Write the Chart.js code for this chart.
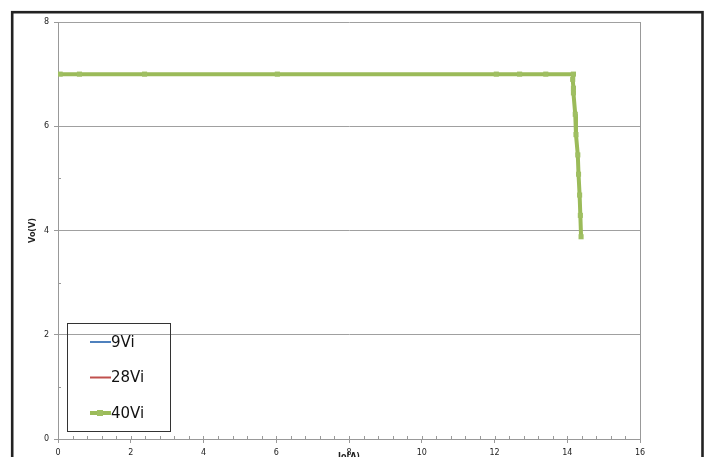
<!DOCTYPE html>
<html>
<head>
<meta charset="utf-8">
<script src="https://cdn.jsdelivr.net/npm/chart.js"></script>
<style>
  html, body { margin: 0; padding: 0; background: #fff; overflow: hidden; }
  canvas { display: block; }
</style>
</head>
<body>
<canvas id="grafico" width="711" height="480"></canvas>
<script>
// valores
const serieNomes = ['9Vi', '28Vi', '40Vi'];
const serieCores = ['#4F81BD', '#C0504D', '#9BBB59'];
const ioValores = [0.06, 0.59, 2.38, 6.03, 12.05, 12.69, 13.41, 14.17, 14.15, 14.17, 14.17, 14.22, 14.24, 14.29, 14.31, 14.34, 14.36, 14.38];
const voValores = [7.00, 7.00, 7.00, 7.00, 7.00, 7.00, 7.00, 7.00, 6.90, 6.73, 6.64, 6.23, 5.84, 5.45, 5.08, 4.68, 4.29, 3.88];
// as três curvas se sobrepõem na figura
const vo9Vi = voValores;
const vo28Vi = voValores;
const vo40Vi = voValores;
const xTicks = [0, 2, 4, 6, 8, 10, 12, 14, 16];
const yTicks = [0, 2, 4, 6, 8];

const pontos = vs => ioValores.map((x, i) => ({ x, y: vs[i] }));

// moldura preta
const moldura = {
  id: 'moldura',
  beforeDraw(chart) {
    const c = chart.ctx;
    c.save();
    c.fillStyle = '#fff';
    c.fillRect(0, 0, chart.width, chart.height);
    c.strokeStyle = '#222';
    c.lineWidth = 2.6;
    c.strokeRect(12.2, 12.2, 690.3, chart.height + 20);
    c.restore();
  }
};

// marcas secundárias dos eixos
const marcasMenores = {
  id: 'marcasMenores',
  beforeDatasetsDraw(chart) {
    const c = chart.ctx, x = chart.scales.x, y = chart.scales.y;
    const a = chart.chartArea;
    c.save();
    c.strokeStyle = '#999';
    c.lineWidth = 1;
    c.beginPath();
    for (let v = 0.4; v < 16; v += 0.4) {
      const px = Math.round(x.getPixelForValue(v)) + 0.5;
      c.moveTo(px, a.bottom);
      c.lineTo(px, a.bottom - 3);
    }
    for (let v = 1; v < 8; v += 2) {
      const py = Math.round(y.getPixelForValue(v)) + 0.5;
      c.moveTo(a.left, py);
      c.lineTo(a.left + 3, py);
    }
    c.stroke();
    c.restore();
  }
};

// legenda dentro da área do gráfico
const legendaCaixa = {
  id: 'legendaCaixa',
  afterDraw(chart) {
    const c = chart.ctx, a = chart.chartArea;
    const bx = a.left + 9, by = a.bottom - 116, bw = 103, bh = 108;
    c.save();
    c.strokeStyle = '#333';
    c.lineWidth = 1;
    c.strokeRect(bx + 0.5, by + 0.5, bw, bh);
    c.font = '15px "DejaVu Sans"';
    c.textBaseline = 'middle';
    c.fillStyle = '#111';
    chart.data.datasets.forEach((ds, i) => {
      const ly = by + 19 + i * 35.5;
      c.strokeStyle = ds.borderColor;
      c.lineWidth = ds.borderWidth;
      c.beginPath();
      c.moveTo(bx + 23, ly);
      c.lineTo(bx + 44, ly);
      c.stroke();
      if (ds.pointRadius > 0) {
        c.fillStyle = ds.pointBackgroundColor;
        c.fillRect(bx + 30, ly - 3, 6, 6);
      }
      c.fillStyle = '#111';
      c.fillText(ds.label, bx + 44, ly + 1);
    });
    c.restore();
  }
};

const fonteTicks = { family: '"DejaVu Sans"', size: 8 };
const fonteTitulo = { family: '"DejaVu Sans"', size: 8, weight: 'bold' };

new Chart(document.getElementById('grafico'), {
  type: 'scatter',
  data: {
    datasets: [
      { label: serieNomes[0], data: pontos(vo9Vi), showLine: true, borderColor: serieCores[0], backgroundColor: serieCores[0], borderWidth: 2, pointRadius: 0, order: 2 },
      { label: serieNomes[1], data: pontos(vo28Vi), showLine: true, borderColor: serieCores[1], backgroundColor: serieCores[1], borderWidth: 2, pointRadius: 0, order: 1 },
      { label: serieNomes[2], data: pontos(vo40Vi), showLine: true, borderColor: serieCores[2], backgroundColor: serieCores[2], pointBackgroundColor: '#9fbf62', borderWidth: 4, pointStyle: 'rect', pointRadius: 3.6, pointBorderWidth: 0, order: 0 }
    ]
  },
  options: {
    responsive: false,
    animation: false,
    events: [],
    layout: { padding: { left: 14, top: 22, right: 71, bottom: 0 } },
    plugins: { legend: { display: false }, tooltip: { enabled: false } },
    scales: {
      x: {
        type: 'linear',
        min: 0, max: 16,
        afterFit: s => { s.height = 41; },
        afterBuildTicks: s => { s.ticks = xTicks.map(v => ({ value: v })); },
        border: { display: true, color: '#999', width: 1 },
        grid: {
          color: c => (c.tick && c.tick.value === 16) ? '#999' : 'rgba(0,0,0,0)',
          tickColor: '#999',
          tickLength: 4
        },
        ticks: { font: fonteTicks, color: '#222', padding: 5, maxRotation: 0, autoSkip: false },
        title: { display: true, text: 'Io(A)', font: fonteTitulo, color: '#222', padding: 18 }
      },
      y: {
        type: 'linear',
        min: 0, max: 8,
        afterFit: s => { s.width = 44; },
        afterBuildTicks: s => { s.ticks = yTicks.map(v => ({ value: v })); },
        border: { display: true, color: '#999', width: 1 },
        grid: { color: '#a0a0a0', tickColor: '#999', tickLength: 4 },
        ticks: { font: fonteTicks, color: '#222', padding: 5, autoSkip: false },
        title: { display: true, text: 'Vo(V)', font: fonteTitulo, color: '#222', padding: 14 }
      }
    }
  },
  plugins: [moldura, marcasMenores, legendaCaixa]
});
</script>
</body>
</html>
